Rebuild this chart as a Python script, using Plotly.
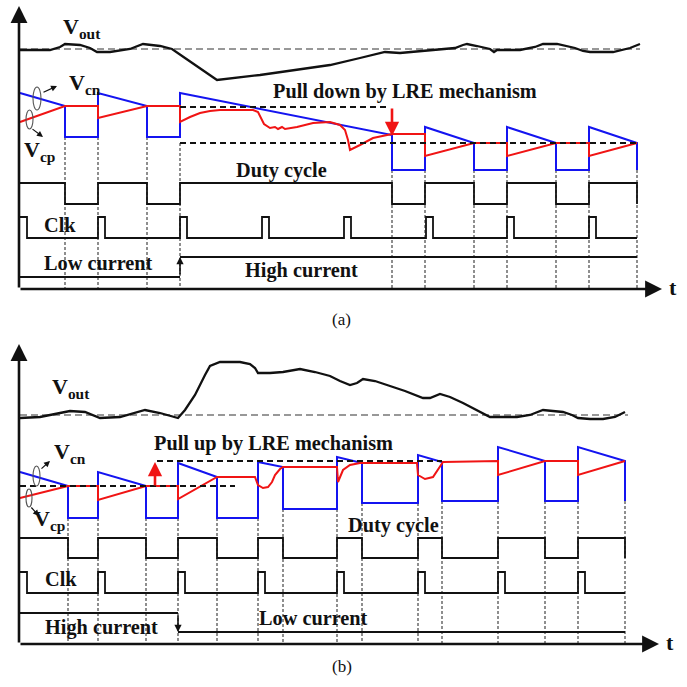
import plotly.graph_objects as go

# ---------------- panel (a): load step from low to high current ----------------
VOUT_A_T = [20, 50, 60, 65, 80, 90, 97, 110, 130, 140, 143, 160, 172, 185, 200, 217,
            260, 300, 330, 360, 385, 400, 430, 455, 463, 467, 477, 490, 494, 497,
            520, 535, 543, 557, 575, 583, 590, 613, 630, 640]
VOUT_A_V = [50, 50, 47, 44, 45, 48, 52, 52, 49, 45, 44, 46, 49, 58, 68, 80,
            75, 69, 65, 58, 52, 53, 50, 48, 45, 44, 46, 49, 52, 50,
            50, 47, 44, 44, 48, 51, 52, 52, 48, 44]
VREF_A = 49

BLUE_A_T = [20, 65, 65, 98, 98, 147, 147, 180, 180, 392, 392, 425, 425, 474, 474,
            507, 507, 556, 556, 589, 589, 637, 637]
BLUE_A_V = [93, 106, 137, 137, 93, 106, 137, 137, 93, 135, 170, 170, 127, 143, 170,
            170, 127, 143, 170, 170, 127, 143, 170]

RED_A_T = [20, 65, 98, 98, 147, 180, 180, 190, 200, 210, 220, 253, 258, 261, 264,
           270, 275, 278, 282, 285, 297, 313, 330, 340, 345, 348, 350, 360, 373,
           392, 425, 425, 474, 507, 507, 556, 589, 589, 637]
RED_A_V = [122, 106, 106, 118, 106, 106, 122, 117, 113, 111, 110, 110, 112, 118, 124,
           128, 127, 129, 127, 129, 127, 123, 122, 125, 130, 140, 150, 145, 138,
           134, 134, 156, 143, 143, 156, 143, 143, 156, 143]

EDGES_A = [65, 98, 147, 180, 392, 425, 474, 507, 556, 589, 637]
EDGE_TOP_A = [137, 137, 137, 143, 170, 170, 170, 170, 170, 170, 170]

DUTY_A_T = [20, 65, 65, 98, 98, 147, 147, 180, 180, 392, 392, 425, 425, 474, 474,
            507, 507, 556, 556, 589, 589, 637, 637]
DUTY_A_V = [183, 183, 204, 204, 183, 183, 204, 204, 183, 183, 204, 204, 183, 183, 204,
            204, 183, 183, 204, 204, 183, 183, 204]

CLK_A_T = [20, 27, 27, 98, 98, 105, 105, 180, 180, 187, 187, 262, 262, 269, 269,
           344, 344, 351, 351, 426, 426, 433, 433, 507, 507, 514, 514, 589, 589,
           596, 596, 637]
CLK_A_V = [217, 217, 238, 238, 217, 217, 238, 238, 217, 217, 238, 238, 217, 217, 238,
           238, 217, 217, 238, 238, 217, 217, 238, 238, 217, 217, 238, 238, 217,
           217, 238, 238]

LOAD_A_T = [20, 180]
LOAD_A_V = [277, 277]
LOAD_A2_T = [180, 637]
LOAD_A2_V = [257, 257]

# ---------------- panel (b): load step from high to low current ----------------
VOUT_B_T = [20, 40, 60, 70, 85, 100, 120, 140, 145, 160, 178, 185, 195, 205, 210,
            220, 240, 250, 255, 258, 270, 283, 300, 315, 330, 340, 350, 357, 363,
            375, 387, 405, 423, 430, 440, 450, 463, 475, 490, 517, 530, 543, 555,
            563, 572, 578, 590, 603, 615, 625]
VOUT_B_V = [418, 417, 413, 411, 412, 418, 417, 411, 410, 413, 418, 410, 395, 375, 366,
            362, 362, 364, 368, 373, 373, 372, 369, 372, 376, 381, 385, 383, 379,
            381, 385, 391, 398, 398, 394, 397, 403, 409, 417, 417, 415, 410, 411,
            412, 415, 418, 419, 419, 417, 412]
VREF_B = 415

BLUE_B_T = [20, 68, 68, 98, 98, 146, 146, 178, 178, 217, 217, 258, 258, 283, 283,
            337, 337, 362, 362, 418, 418, 442, 442, 498, 498, 545, 545, 578, 578,
            625, 625]
BLUE_B_V = [472, 486, 518, 518, 472, 486, 518, 518, 463, 477, 518, 518, 462, 467, 509,
            509, 457, 463, 503, 503, 455, 462, 501, 501, 447, 461, 501, 501, 447,
            461, 501]

RED_B_T = [20, 68, 98, 98, 146, 178, 178, 217, 255, 258, 263, 268, 272, 275, 280,
           283, 337, 338, 343, 350, 360, 417, 418, 425, 433, 438, 443, 498, 498,
           545, 578, 578, 625]
RED_B_V = [498, 486, 486, 500, 486, 486, 499, 477, 477, 485, 488, 487, 482, 475, 469,
           467, 467, 482, 470, 465, 463, 463, 475, 479, 477, 470, 462, 461, 475,
           461, 461, 475, 461]

EDGES_B = [68, 98, 146, 178, 217, 258, 283, 337, 362, 418, 442, 498, 545, 578, 625]
EDGE_TOP_B = [518, 518, 518, 518, 518, 518, 509, 509, 503, 503, 501, 501, 501, 501, 501]

DUTY_B_T = [20, 68, 68, 98, 98, 146, 146, 178, 178, 217, 217, 258, 258, 283, 283,
            337, 337, 362, 362, 418, 418, 442, 442, 498, 498, 545, 545, 578, 578,
            625, 625]
DUTY_B_V = [538, 538, 558, 558, 538, 538, 558, 558, 538, 538, 558, 558, 538, 538, 558,
            558, 538, 538, 558, 558, 538, 538, 558, 558, 538, 538, 558, 558, 538,
            538, 558]

CLK_B_T = [20, 27, 27, 98, 98, 105, 105, 178, 178, 185, 185, 258, 258, 265, 265,
           337, 337, 344, 344, 418, 418, 425, 425, 498, 498, 505, 505, 578, 578,
           585, 585, 625]
CLK_B_V = [572, 572, 593, 593, 572, 572, 593, 593, 572, 572, 593, 593, 572, 572, 593,
           593, 572, 572, 593, 593, 572, 572, 593, 593, 572, 572, 593, 593, 572,
           572, 593, 593]

LOAD_B_T = [20, 178]
LOAD_B_V = [613, 613]
LOAD_B2_T = [178, 625]
LOAD_B2_V = [632, 632]

BLUE = "#1414f0"
RED = "#f01414"
INK = "#111111"
SERIF = "Liberation Serif"

fig = go.Figure()


def path(xs, ys, color=INK, width=2.0, dash="solid"):
    fig.add_trace(go.Scatter(x=xs, y=ys, mode="lines", hoverinfo="skip",
                             line=dict(color=color, width=width, dash=dash)))


def hline(x0, x1, y, color=INK, width=2.0, dash="solid"):
    path([x0, x1], [y, y], color, width, dash)


# reference levels of the output voltage
hline(20, 640, VREF_A, "#777777", 1.5, "7px,4px")
hline(20, 628, VREF_B, "#777777", 1.5, "7px,4px")

# switching-edge markers
for x, top in zip(EDGES_A, EDGE_TOP_A):
    path([x, x], [top, 288], "#444444", 1.2, "3px,2px")
for x, top in zip(EDGES_B, EDGE_TOP_B):
    path([x, x], [top, 643], "#444444", 1.2, "3px,2px")

# output voltage
path(VOUT_A_T, VOUT_A_V, INK, 2.3)
path(VOUT_B_T, VOUT_B_V, INK, 2.3)

# control voltages
path(BLUE_A_T, BLUE_A_V, BLUE, 2.0)
path(RED_A_T, RED_A_V, RED, 2.0)
path(BLUE_B_T, BLUE_B_V, BLUE, 2.0)
path(RED_B_T, RED_B_V, RED, 2.0)

# LRE thresholds
hline(180, 390, 107, INK, 2.0, "6px,4px")
hline(180, 637, 143, INK, 2.0, "6px,4px")
hline(20, 235, 486, INK, 2.0, "6px,4px")
hline(157, 442, 461, INK, 2.0, "6px,4px")

# duty cycle, clock, load current
path(DUTY_A_T, DUTY_A_V, INK, 1.8)
path(CLK_A_T, CLK_A_V, INK, 1.8)
path(LOAD_A_T, LOAD_A_V, INK, 1.8)
path(LOAD_A2_T, LOAD_A2_V, INK, 1.8)
path(DUTY_B_T, DUTY_B_V, INK, 1.8)
path(CLK_B_T, CLK_B_V, INK, 1.8)
path(LOAD_B_T, LOAD_B_V, INK, 1.8)
path(LOAD_B2_T, LOAD_B2_V, INK, 1.8)

ann = []


def arrow(x, y, ax, ay, color=INK, width=2.5, size=1.0, head=2):
    ann.append(dict(x=x, y=y, ax=ax, ay=ay, xref="x", yref="y", axref="x", ayref="y",
                    text="", showarrow=True, arrowhead=head, arrowsize=size,
                    arrowwidth=width, arrowcolor=color, standoff=0, startstandoff=0))


def label(x, y, text, size=20, bold=True, xanchor="left", color=INK):
    ann.append(dict(x=x, y=y, xref="x", yref="y", text=f"<b>{text}</b>" if bold else text,
                    showarrow=False, xanchor=xanchor, yanchor="middle",
                    font=dict(family=SERIF, size=size, color=color)))


# axes
arrow(19, 6, 19, 289, INK, 2.6, 1.3)
arrow(662, 289, 19, 289, INK, 2.6, 1.3)
arrow(19, 344, 19, 644, INK, 2.6, 1.3)
arrow(659, 644, 19, 644, INK, 2.6, 1.3)

# LRE pull arrows
arrow(392, 136, 392, 107, RED, 2.6, 1.1)
arrow(155, 462, 155, 487, RED, 2.6, 1.1)

# current step arrows
arrow(180, 257, 180, 276, INK, 1.6, 0.9)
arrow(178, 632, 178, 614, INK, 1.6, 0.9)

# probe markers next to V_cn / V_cp
shapes = [
    dict(type="circle", xref="x", yref="y", x0=33, x1=41, y0=87, y1=110,
         line=dict(color="#555555", width=1.1)),
    dict(type="circle", xref="x", yref="y", x0=26, x1=33, y0=110, y1=129,
         line=dict(color="#555555", width=1.1)),
    dict(type="circle", xref="x", yref="y", x0=33, x1=40, y0=466, y1=486,
         line=dict(color="#555555", width=1.1)),
    dict(type="circle", xref="x", yref="y", x0=26, x1=32, y0=489, y1=507,
         line=dict(color="#555555", width=1.1)),
]
arrow(57, 86, 42, 93, INK, 1.2, 1.0)
arrow(43, 137, 31, 128, INK, 1.2, 1.0)
arrow(50, 461, 40, 470, INK, 1.2, 1.0)
arrow(39, 516, 30, 506, INK, 1.2, 1.0)

# text, panel (a)
label(61, 28, "V<sub>out</sub>", 22)
label(67, 84, "V<sub>cn</sub>", 22)
label(22, 151, "V<sub>cp</sub>", 22)
label(405, 91, "Pull down by LRE mechanism", 20.3, xanchor="center")
label(281, 170, "Duty cycle", 20.3, xanchor="center")
label(42, 225, "Clk", 20.3)
label(42, 263, "Low current", 20.3)
label(243, 270, "High current", 20.3)
label(341, 319, "(a)", 17, bold=False, xanchor="center")
label(667, 287, "t", 22)

# text, panel (b)
label(50, 388, "V<sub>out</sub>", 22)
label(52, 453, "V<sub>cn</sub>", 22)
label(32, 520, "V<sub>cp</sub>", 22)
label(273, 443, "Pull up by LRE mechanism", 20.3, xanchor="center")
label(393, 525, "Duty cycle", 20.3, xanchor="center")
label(43, 579, "Clk", 20.3)
label(43, 627, "High current", 20.3)
label(257, 618, "Low current", 20.3)
label(342, 666, "(b)", 17, bold=False, xanchor="center")
label(664, 642, "t", 22)

fig.update_layout(
    width=687, height=687,
    margin=dict(l=0, r=0, t=0, b=0),
    paper_bgcolor="white", plot_bgcolor="white",
    showlegend=False,
    xaxis=dict(range=[0, 687], visible=False, fixedrange=True),
    yaxis=dict(range=[687, 0], visible=False, fixedrange=True),
    annotations=ann,
    shapes=shapes,
)

fig.write_html("out.html")
